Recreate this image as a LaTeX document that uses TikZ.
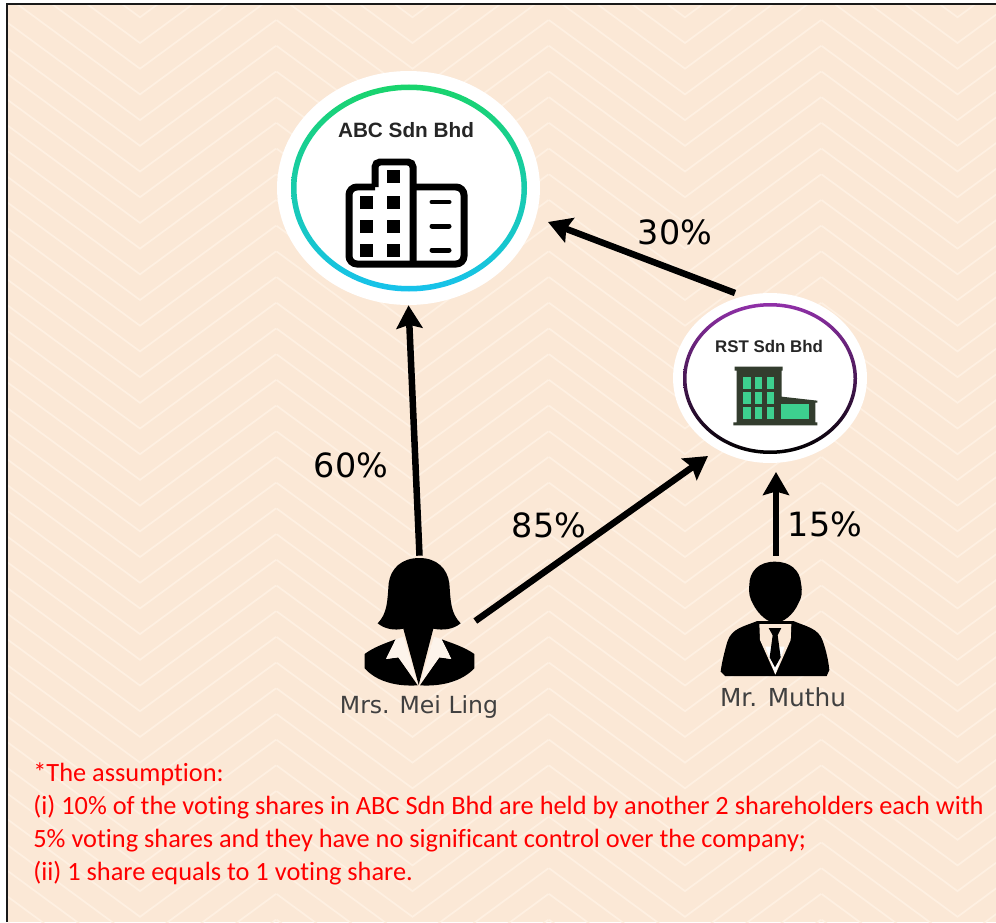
\documentclass[tikz,border=0pt]{standalone}
\usepackage{xcolor}
\usepackage{fontspec}
\setmainfont[RawFeature={-liga;-clig;-calt;-dlig}]{Carlito}
\newfontfamily\labelfont{DejaVu Sans}
\newfontfamily\firmfont{Liberation Sans}
\usepackage{tikz}
\usetikzlibrary{shapes,shapes.geometric}
\usetikzlibrary{calc,arrows.meta,positioning}
\definecolor{paper}{HTML}{FBE8D6}
\definecolor{zigzag}{HTML}{FEF0E2}
\definecolor{blockdark}{HTML}{333D2E}
\definecolor{blockgreen}{HTML}{3DD08F}
\definecolor{ringgreen}{HTML}{19D46C}
\definecolor{ringblue}{HTML}{17C2EC}
\definecolor{ringviolet}{HTML}{9030A8}
\tikzset{
  x=0.02cm, y=-0.02cm,
  chev/.style={draw=zigzag, line width=0.035cm},
  disc/.style={ellipse, fill=white, inner sep=0pt},
  firm/.style={font=\firmfont\bfseries\fontsize{11.8}{14}\selectfont, text=black!85},
  person/.style={rectangle, inner sep=0pt},
  who/.style={font=\labelfont\fontsize{13.4}{16}\selectfont, text=black!75},
  pct/.style={font=\labelfont\fontsize{19}{23}\selectfont, inner sep=0pt},
  link/.style={line width=0.13cm, -{Stealth[length=0.46cm,width=0.52cm,inset=0.07cm]}},
  note/.style={font=\fontsize{15}{18.8}\selectfont, text=red, align=left, inner sep=0pt}
}
\begin{document}
\begin{tikzpicture}
	\useasboundingbox (0,0) rectangle (996,922);
	% backdrop
	\fill[paper] (8,5) rectangle (996,922);
	\begin{scope}
		\clip (8,5) rectangle (996,922);
		\foreach \k in {-2,...,38}
			\foreach \m in {-1,...,3}
				\draw[chev] ({140+272.5*\m-136},{43+25.7*\k-100}) -- ({140+272.5*\m},{43+25.7*\k}) -- ({140+272.5*\m+136},{43+25.7*\k-100});
	\end{scope}
	\draw[line width=0.055cm, black!90] (7,922) -- (7,4) -- (996,4);

	% companies
	\node[disc, minimum width=5.26cm, minimum height=4.68cm] (abc) at (408.5,188) {};
	\path[top color=ringgreen, bottom color=ringblue, even odd rule]
		(409,188) ellipse [x radius=118, y radius=103.5]
		(409,188) ellipse [x radius=112.5, y radius=98];
	\node[firm] (abcname) at (406,130) {ABC Sdn Bhd};
	\begin{scope}[line width=0.14cm]
		\draw[rounded corners=0.16cm] (375,187) -- (349,187) -- (349,264) -- (464,264) -- (464,187) -- (413,187);
		\draw[rounded corners=0.1cm] (375,187) -- (375,162) -- (413,162) -- (413,264);
	\end{scope}
	\foreach \px/\py in {393/177,366/202,393/202,366/226,393/226,366/250,393/250}
		\fill (\px-6.5,\py-6.5) rectangle (\px+6.5,\py+6.5);
	\foreach \py in {202,226,250}
		\draw[line width=0.1cm, line cap=round] (432,\py) -- (449,\py);

	\node[disc, minimum width=3.88cm, minimum height=3.4cm] (rst) at (770,378) {};
	\path[top color=ringviolet, bottom color=black, even odd rule]
		(770,378.5) ellipse [x radius=87, y radius=75.5]
		(770,378.5) ellipse [x radius=83.5, y radius=72];
	\node[firm, font=\firmfont\bfseries\fontsize{9.6}{12}\selectfont] (rstname) at (769,346) {RST Sdn Bhd};
	\begin{scope}[shift={(660,280)}, scale=1/3]
		\fill[blockdark] (224,260) -- (368,260) -- (368,272) -- (365,272) -- (365,350) -- (472,362) -- (472,368) -- (466,368) -- (466,427) -- (472,427) -- (472,436) -- (220,436) -- (220,427) -- (230,427) -- (230,272) -- (224,272) -- cycle;
		\foreach \cx/\cw in {248/24,285/22,320/23}
			\foreach \ry/\rh in {290/38,337/35,382/36}
				\fill[blockgreen] (\cx,\ry) rectangle (\cx+\cw,\ry+\rh);
		\fill[blockgreen] (364,372) rectangle (446,418);
	\end{scope}

	% shareholders
	\node[person, minimum width=2.22cm, minimum height=2.6cm] (meiling) at (419.5,621) {};
	\begin{scope}[shift={(330,540)}, scale=1/3]
		\fill (268,54) .. controls (215,54) and (182,85) .. (176,130) .. controls (172,185) and (172,220) .. (143,250) .. controls (165,268) and (195,272) .. (220,266) -- (266,435) -- (310,266) .. controls (340,272) and (370,268) .. (392,250) .. controls (362,220) and (362,185) .. (358,130) .. controls (352,85) and (320,54) .. (268,54) -- cycle;
		\fill (197,298) -- (168,357) -- (205,352) -- (263,436) .. controls (200,440) and (140,425) .. (104,385) -- (104,342) .. controls (130,322) and (165,310) .. (197,298) -- cycle;
		\fill (335,298) -- (364,357) -- (328,352) -- (270,436) .. controls (333,440) and (395,425) .. (433,385) -- (433,342) .. controls (405,322) and (368,310) .. (335,298) -- cycle;
		\fill[white!50!paper] (197,298) -- (168,357) -- (205,352) -- (263,432) -- (221,290) -- cycle;
		\fill[white!50!paper] (335,298) -- (364,357) -- (328,352) -- (270,432) -- (312,290) -- cycle;
	\end{scope}
	\node[who] (meilingname) at (419,707) {Mrs. Mei Ling};

	\node[person, minimum width=2.2cm, minimum height=2.52cm] (muthu) at (776,619) {};
	\begin{scope}[shift={(700,550)}, scale=1/3]
		\fill (225,35) .. controls (175,35) and (148,65) .. (148,105) .. controls (145,130) and (150,145) .. (158,160) .. controls (175,195) and (205,218) .. (225,218) .. controls (250,218) and (280,195) .. (295,160) .. controls (305,145) and (308,125) .. (303,100) .. controls (300,60) and (270,35) .. (225,35) -- cycle;
		\fill (172,213) .. controls (130,230) and (95,235) .. (82,275) .. controls (72,310) and (65,340) .. (62,365) -- (75,378) -- (380,378) -- (388,360) .. controls (385,330) and (378,300) .. (368,272) .. controls (355,235) and (320,230) .. (280,213) -- cycle;
		\fill[paper] (178,222) -- (274,222) -- (272,270) -- (226,374) -- (180,270) -- cycle;
		\fill[white] (196,290) -- (254,290) -- (226,372) -- cycle;
		\fill (206,234) -- (244,234) -- (233,256) -- (242,322) -- (225,352) -- (209,322) -- (218,256) -- cycle;
	\end{scope}
	\node[who, font=\labelfont\fontsize{14.1}{17}\selectfont] (muthuname) at (783,697) {Mr. Muthu};

	% shareholdings
	\coordinate (rstmei) at (708,456);
	\coordinate (rstmuthu) at (776,472);
	\coordinate (rstout) at (735,293);
	\coordinate (abcrst) at (548,222);
	\draw[link] (meiling.north) -- (abc.south);
	\draw[link] (meiling.east) -- (rstmei);
	\draw[link] (muthu.north) -- (rstmuthu);
	\draw[link] (rstout) -- (abcrst);
	\node[pct] (shareabc) at (351,465) {60\%};
	\node[pct] (sharerst) at (549,525) {85\%};
	\node[pct] (sharemuthu) at (825,524) {15\%};
	\node[pct] (sharecross) at (675,232) {30\%};

	% assumption
	\node[note, anchor=north west] (assume) at (33,762) {*The assumption:\\
		(i) 10\% of the voting shares in ABC Sdn Bhd are held by another 2 shareholders each with\\
		5\% voting shares and they have no significant control over the company;\\
		(ii) 1 share equals to 1 voting share.};
\end{tikzpicture}
\end{document}
